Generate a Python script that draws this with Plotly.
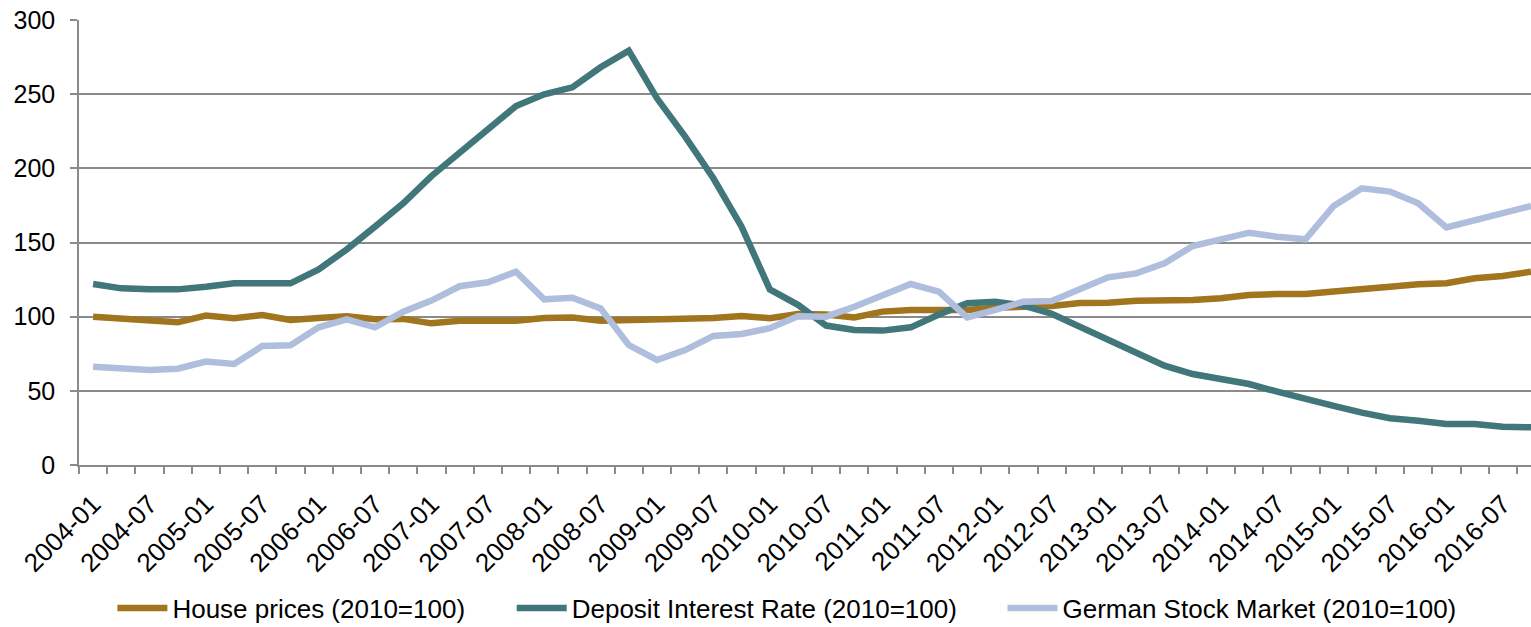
import plotly.graph_objects as go

# Quarterly periods, 2004-01 .. 2016-10
periods = [f"{y}-{m:02d}" for y in range(2004, 2017) for m in (1, 4, 7, 10)]

house_prices = [
    100.0, 98.7, 97.8, 96.2, 100.7, 98.9, 101.1, 97.8, 99.1, 100.2,
    98.2, 98.5, 95.5, 97.3, 97.3, 97.3, 99.1, 99.5, 97.3, 97.8,
    97.8, 99.1, 99.1, 100.5, 99.0, 101.8, 101.5, 99.5, 103.4, 104.5,
    104.0, 104.5, 106.0, 106.9, 107.2, 109.2, 109.4, 110.8, 110.9, 111.2,
    112.4, 114.6, 115.3, 115.3, 116.9, 119.1, 120.2, 121.8, 122.5, 125.9,
    127.4, 130.3,
]

deposit_rate = [
    122.0, 119.1, 118.4, 118.4, 120.2, 122.5, 122.5, 122.5, 131.9, 145.4,
    160.7, 176.4, 194.8, 210.5, 227.0, 242.0, 249.9, 254.6, 268.1, 279.3,
    247.2, 221.4, 193.3, 160.7, 118.4, 108.0, 94.0, 91.0, 90.6, 92.8,
    101.5, 109.0, 110.0, 107.5, 102.0, 93.3, 84.3, 75.3, 67.0, 61.3,
    57.8, 54.6, 49.4, 44.3, 39.8, 35.3, 31.5, 29.9, 27.6, 27.6,
    25.8, 25.4,
]

stock_market = [
    66.3, 65.2, 64.0, 64.9, 69.7, 68.1, 80.2, 80.7, 92.8, 98.2,
    92.8, 103.4, 110.8, 120.5, 123.2, 130.3, 111.7, 112.8, 105.6, 80.9,
    70.8, 77.5, 87.0, 88.3, 92.2, 100.3, 100.0, 106.7, 114.6, 122.0,
    116.9, 99.5, 104.5, 110.1, 110.6, 118.0, 126.5, 129.2, 136.0, 147.6,
    152.4, 156.6, 153.9, 152.2, 174.6, 186.5, 184.3, 176.4, 160.2, 164.7,
    169.7, 174.6,
]

series = [
    ("House prices (2010=100)", house_prices, "#A1741E", "legend", 0.023),
    ("Deposit Interest Rate (2010=100)", deposit_rate, "#41767A", "legend2", 0.298),
    ("German Stock Market (2010=100)", stock_market, "#B0BEDD", "legend3", 0.636),
]

idx = list(range(len(periods)))
axis_grey = "#8A8A8A"
font_family = "Liberation Sans, Arial, sans-serif"

fig = go.Figure()
legend_layouts = {}
for name, values, color, legend_id, lx in series:
    fig.add_trace(go.Scatter(
        x=idx, y=values, name=name, mode="lines",
        line=dict(color=color, width=6.5),
        legend=legend_id,
    ))
    legend_layouts[legend_id] = dict(
        orientation="h", x=lx, xanchor="left",
        yref="container", y=0.030, yanchor="middle",
        font=dict(size=26, family=font_family, color="black"),
        bgcolor="rgba(0,0,0,0)", itemwidth=50,
    )

fig.update_layout(
    width=1531, height=627, autosize=False,
    margin=dict(l=79, r=0, t=20, b=162, pad=0, autoexpand=False),
    plot_bgcolor="white", paper_bgcolor="white",
    font=dict(family=font_family, color="black"),
    showlegend=True,
    **legend_layouts,
)

fig.update_xaxes(
    range=[-0.5, 51.0],
    automargin=False,
    tickmode="array",
    tickvals=idx[::2],
    ticktext=periods[::2],
    tickangle=-45,
    ticks="",
    tickfont=dict(size=26),
    ticklabelstandoff=12,
    showgrid=False,
    zeroline=False,
    showline=True, linecolor=axis_grey, linewidth=1.5,
    minor=dict(
        tickmode="array",
        tickvals=[i - 0.5 for i in idx],
        ticks="outside", ticklen=7, tickcolor=axis_grey, tickwidth=1.5,
        showgrid=False,
    ),
)

fig.update_yaxes(
    range=[0, 300],
    automargin=False,
    tickmode="linear", tick0=0, dtick=50,
    ticks="outside", ticklen=7, tickcolor=axis_grey, tickwidth=1.5,
    tickfont=dict(size=25),
    ticklabelstandoff=10,
    showgrid=True, gridcolor=axis_grey, gridwidth=1.5,
    zeroline=False,
    showline=True, linecolor=axis_grey, linewidth=1.5,
)

fig.write_html("out.html")
